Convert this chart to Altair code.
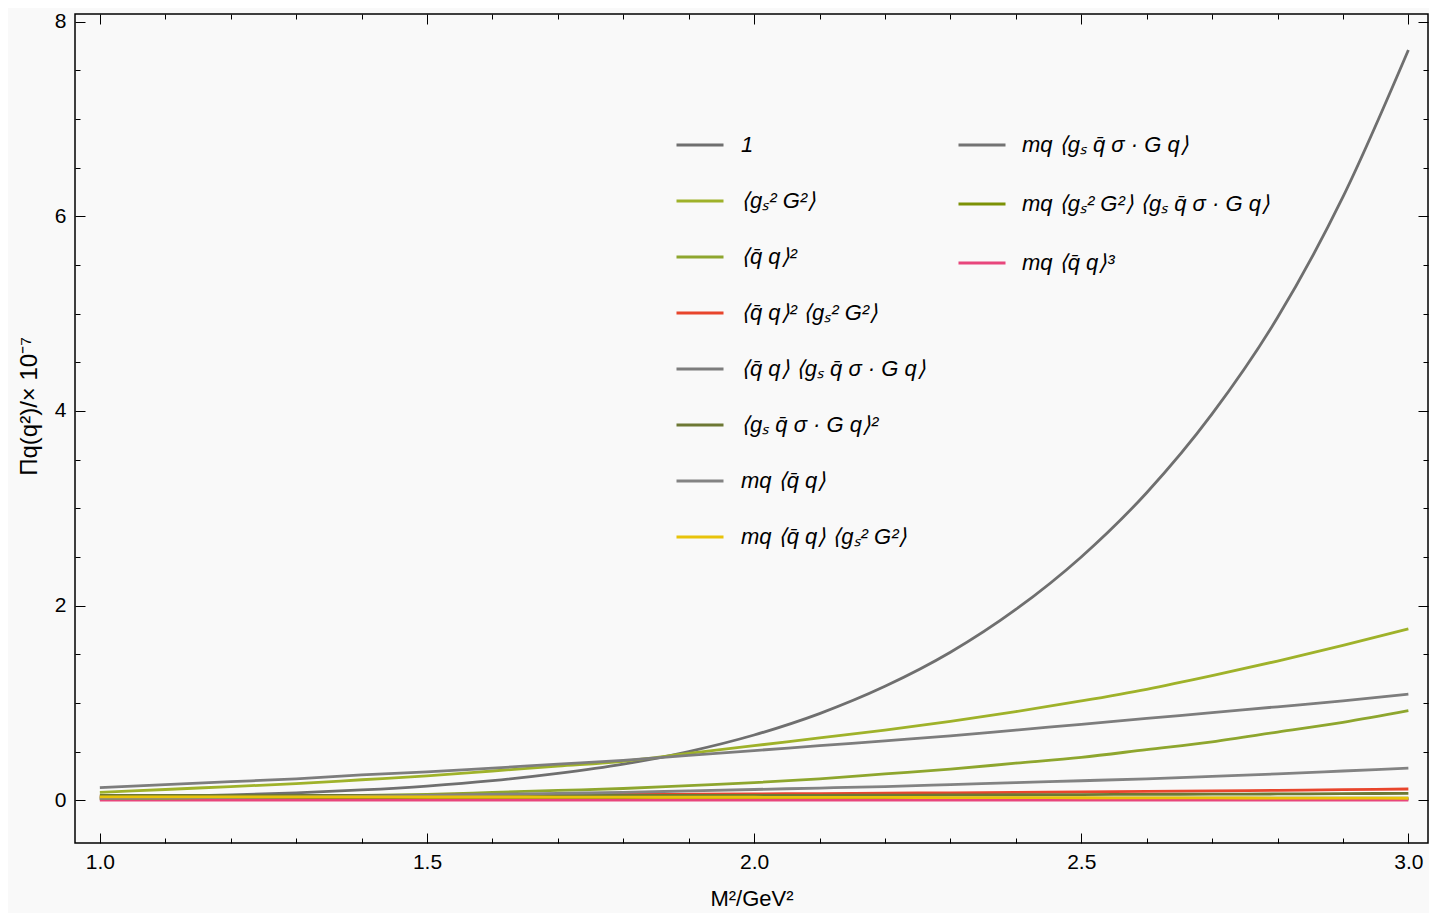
import altair as alt
import pandas as pd

# ---------------- data ----------------
m2 = [1.0, 1.1, 1.2, 1.3, 1.4, 1.5, 1.6, 1.7, 1.8, 1.9, 2.0,
      2.1, 2.2, 2.3, 2.4, 2.5, 2.6, 2.7, 2.8, 2.9, 3.0]

pert = [0.03, 0.04, 0.055, 0.075, 0.105, 0.145, 0.20, 0.275, 0.37, 0.50, 0.67,
        0.89, 1.17, 1.52, 1.96, 2.50, 3.16, 3.97, 4.96, 6.20, 7.71]
gg = [0.08, 0.11, 0.14, 0.17, 0.21, 0.25, 0.30, 0.35, 0.40, 0.48, 0.56,
      0.64, 0.72, 0.81, 0.91, 1.02, 1.14, 1.28, 1.43, 1.59, 1.76]
qq2 = [0.02, 0.02, 0.03, 0.04, 0.05, 0.06, 0.08, 0.10, 0.12, 0.15, 0.18,
       0.22, 0.27, 0.32, 0.38, 0.44, 0.52, 0.60, 0.70, 0.80, 0.92]
qq2_gg = [0.04, 0.042, 0.044, 0.046, 0.048, 0.05, 0.053, 0.056, 0.059, 0.062, 0.065,
          0.068, 0.072, 0.076, 0.08, 0.085, 0.09, 0.095, 0.101, 0.108, 0.115]
qq_mix = [0.13, 0.16, 0.19, 0.22, 0.26, 0.29, 0.33, 0.37, 0.41, 0.46, 0.51,
          0.56, 0.61, 0.66, 0.72, 0.78, 0.84, 0.90, 0.96, 1.02, 1.09]
mix2 = [0.05, 0.05, 0.05, 0.05, 0.05, 0.05, 0.05, 0.05, 0.05, 0.05, 0.05,
        0.05, 0.052, 0.054, 0.056, 0.058, 0.06, 0.062, 0.064, 0.067, 0.07]
mq_qq = [0.02, 0.025, 0.03, 0.035, 0.04, 0.05, 0.06, 0.07, 0.08, 0.095, 0.11,
         0.125, 0.14, 0.16, 0.18, 0.20, 0.22, 0.245, 0.27, 0.30, 0.33]
mq_qq_gg = [0.035, 0.035, 0.035, 0.034, 0.034, 0.033, 0.033, 0.032, 0.031, 0.03, 0.03,
            0.029, 0.028, 0.027, 0.026, 0.025, 0.024, 0.023, 0.022, 0.021, 0.02]
mq_mix = [0.01, 0.01, 0.01, 0.01, 0.01, 0.01, 0.01, 0.01, 0.01, 0.01, 0.01,
          0.01, 0.01, 0.01, 0.01, 0.01, 0.01, 0.01, 0.01, 0.01, 0.01]
mq_gg_mix = [0.02, 0.02, 0.02, 0.02, 0.02, 0.02, 0.02, 0.02, 0.02, 0.02, 0.02,
             0.02, 0.02, 0.02, 0.02, 0.02, 0.02, 0.02, 0.02, 0.02, 0.02]
mq_qq3 = [0.0, 0.0, 0.0, 0.0, 0.0, 0.0, 0.0, 0.0, 0.0, 0.0, 0.0,
          0.0, 0.0, 0.0, 0.0, 0.0, 0.0, 0.0, 0.0, 0.0, 0.0]

labels1 = ["1",
           "⟨gₛ² G²⟩",
           "⟨q̄ q⟩²",
           "⟨q̄ q⟩² ⟨gₛ² G²⟩",
           "⟨q̄ q⟩ ⟨gₛ q̄ σ · G q⟩",
           "⟨gₛ q̄ σ · G q⟩²",
           "mq ⟨q̄ q⟩",
           "mq ⟨q̄ q⟩ ⟨gₛ² G²⟩"]
labels2 = ["mq ⟨gₛ q̄ σ · G q⟩",
           "mq ⟨gₛ² G²⟩ ⟨gₛ q̄ σ · G q⟩",
           "mq ⟨q̄ q⟩³"]
values1 = [pert, gg, qq2, qq2_gg, qq_mix, mix2, mq_qq, mq_qq_gg]
values2 = [mq_mix, mq_gg_mix, mq_qq3]
colors1 = ["#6f6f6f", "#9fb22a", "#8ea62e", "#e8452c",
           "#7d7d7d", "#6d7834", "#838383", "#e8c30a"]
colors2 = ["#737373", "#7c9206", "#e8467c"]

x_ticks = [1.0, 1.1, 1.2, 1.3, 1.4, 1.5, 1.6, 1.7, 1.8, 1.9, 2.0,
           2.1, 2.2, 2.3, 2.4, 2.5, 2.6, 2.7, 2.8, 2.9, 3.0]
y_ticks = [0, 0.5, 1, 1.5, 2, 2.5, 3, 3.5, 4, 4.5, 5, 5.5, 6, 6.5, 7, 7.5, 8]


def long_df(labels, values):
    rows = []
    for lab, vals in zip(labels, values):
        for x, v in zip(m2, vals):
            rows.append({"M2": x, "Pi": v, "term": lab})
    return pd.DataFrame(rows)


df1 = long_df(labels1, values1)
df2 = long_df(labels2, values2)

FONT = "Liberation Sans"
xscale = alt.Scale(domain=[0.962, 3.03], nice=False, zero=False)
yscale = alt.Scale(domain=[-0.44, 8.08], nice=False, zero=False)

x_major = "abs(datum.value*2 - round(datum.value*2)) < 0.001"
y_major = "abs(datum.value/2 - round(datum.value/2)) < 0.001"
x_tick_size = alt.ExprRef(expr=f"{x_major} ? -10 : -5")
y_tick_size = alt.ExprRef(expr=f"{y_major} ? -10 : -5")

common_axis = dict(grid=False, domain=False, tickColor="black", tickWidth=1,
                   labelFont=FONT, labelFontSize=21, labelColor="black",
                   labelOverlap=False, labelFlush=False,
                   titleFont=FONT, titleFontWeight="normal", titleColor="black")

x_axis_bottom = alt.Axis(orient="bottom", values=x_ticks, tickSize=x_tick_size,
                         labelExpr=f"{x_major} ? format(datum.value, '.1f') : ''",
                         labelPadding=18, titlePadding=11, titleFontSize=22,
                         **common_axis)
y_axis_left = alt.Axis(orient="left", values=y_ticks, tickSize=y_tick_size,
                       labelExpr=f"{y_major} ? format(datum.value, 'd') : ''",
                       labelPadding=19, titlePadding=13, titleFontSize=24,
                       titleY=392, **common_axis)
x_axis_top = alt.Axis(orient="top", values=x_ticks, tickSize=x_tick_size,
                      labels=False, **common_axis)
y_axis_right = alt.Axis(orient="right", values=y_ticks, tickSize=y_tick_size,
                        labels=False, **common_axis)

legend_common = dict(orient="none", symbolType="stroke", symbolSize=2209,
                     symbolStrokeWidth=3, labelFont=FONT, labelFontSize=22,
                     labelFontStyle="italic", labelColor="black", labelLimit=500,
                     padding=0, direction="vertical")

layer1 = alt.Chart(df1).mark_line(strokeWidth=2.8, interpolate="monotone").encode(
    x=alt.X("M2:Q", scale=xscale, axis=x_axis_bottom, title="M²/GeV²"),
    y=alt.Y("Pi:Q", scale=yscale, axis=y_axis_left, title="Πq(q²)/× 10⁻⁷"),
    color=alt.Color("term:N", sort=labels1,
                    scale=alt.Scale(domain=labels1, range=colors1),
                    legend=alt.Legend(legendX=600, legendY=106, rowPadding=20,
                                      labelOffset=16, **legend_common),
                    title=None),
)

layer2 = alt.Chart(df2).mark_line(strokeWidth=2.8, interpolate="monotone").encode(
    x=alt.X("M2:Q", scale=xscale, axis=x_axis_top, title=""),
    y=alt.Y("Pi:Q", scale=yscale, axis=y_axis_right, title=""),
    color=alt.Color("term:N", sort=labels2,
                    scale=alt.Scale(domain=labels2, range=colors2),
                    legend=alt.Legend(legendX=882, legendY=106, rowPadding=23,
                                      labelOffset=15, **legend_common),
                    title=None),
)

chart = alt.layer(layer2, layer1).resolve_scale(
    color="independent", x="shared", y="shared"
).resolve_axis(
    x="independent", y="independent"
).properties(
    width=1353, height=829,
    autosize=alt.AutoSizeParams(type="none"),
    padding={"left": 67, "top": 6, "right": 1, "bottom": 70},
    background="#f9f9f9",
).configure_view(
    stroke="black", strokeWidth=1.5, fill="#f9f9f9"
)

chart.save("out.html", embed_options={"renderer": "svg", "actions": False})
